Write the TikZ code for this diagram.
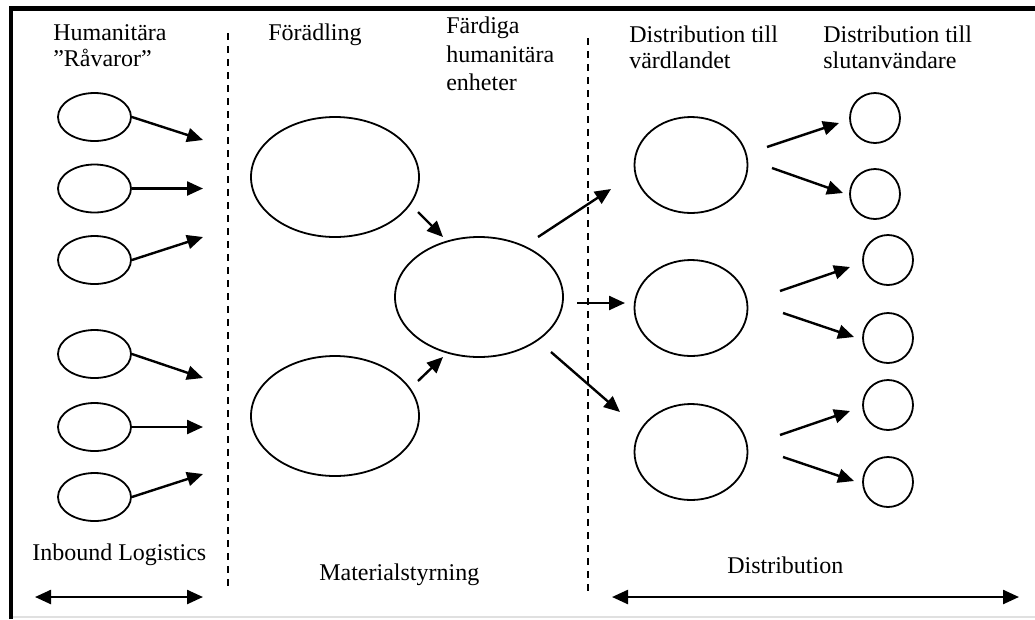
\documentclass[tikz,border=0pt]{standalone}
\usepackage{fontspec}
\setmainfont{Liberation Serif}
\usetikzlibrary{shapes.geometric,arrows.meta}
\begin{document}
\begin{tikzpicture}[x=0.75pt,y=-0.75pt,
  lbl/.style={anchor=base west,inner sep=0pt,font=\fontsize{18}{20}\selectfont},
  oval/.style={draw,ellipse,inner sep=0pt,line width=1.35pt},
  sm/.style={oval,minimum width=54.75pt,minimum height=36pt},
  big/.style={oval,minimum width=126pt,minimum height=90pt},
  mid/.style={oval,minimum width=84.75pt,minimum height=72pt},
  dot/.style={draw,circle,inner sep=0pt,line width=1.35pt,minimum size=37.5pt},
  arr/.style={line width=1.8pt,-{Triangle[length=12pt,width=10.5pt]}},
  dbl/.style={line width=1.8pt,{Triangle[length=12pt,width=10.5pt]}-{Triangle[length=12pt,width=10.5pt]}},
  sep/.style={line width=1.3pt,dash pattern=on 5.25pt off 4.5pt}]
\useasboundingbox (0,0) rectangle (1035,619);
% frame
\draw[line width=3pt] (11,619) -- (11,8);
\draw[line width=3.75pt] (9,8) -- (1035,8);
\draw[line width=1pt,black!12] (13,617) -- (1035,617);
% separators
\coordinate (d1a) at (228,33); \coordinate (d1b) at (228,586);
\coordinate (d2a) at (588,38); \coordinate (d2b) at (588,596);
\draw[sep] (d1a) -- (d1b);
\draw[sep] (d2a) -- (d2b);
% headings
\node[lbl] (h1) at (53,40) {Humanitära};
\node[lbl] (h1b) at (53,66) {”Råvaror”};
\node[lbl] (h2) at (268,40) {Förädling};
\node[lbl] (h3) at (446,33) {Färdiga};
\node[lbl] (h3b) at (446,62) {humanitära};
\node[lbl] (h3c) at (446,90) {enheter};
\node[lbl] (h4) at (629,42) {Distribution till};
\node[lbl] (h4b) at (629,68) {värdlandet};
\node[lbl] (h5) at (823,42) {Distribution till};
\node[lbl] (h5b) at (823,68) {slutanvändare};
\node[lbl] (f1) at (32,560) {Inbound Logistics};
\node[lbl] (f2) at (319,580) {Materialstyrning};
\node[lbl] (f3) at (727,573) {Distribution};
% left small ellipses
\node[sm] (s1) at (94.5,117) {};
\node[sm] (s2) at (94.5,188.5) {};
\node[sm] (s3) at (94.5,260) {};
\node[sm] (s4) at (94.5,354) {};
\node[sm] (s5) at (94.5,427) {};
\node[sm] (s6) at (94.5,497) {};
\coordinate (t1) at (203,140);
\coordinate (t2) at (203,188.5);
\coordinate (t3) at (203,237);
\coordinate (t4) at (203,378);
\coordinate (t5) at (203,427);
\coordinate (t6) at (203,474);
\draw[arr] (s1.east) -- (t1);
\draw[arr] (s2.east) -- (t2);
\draw[arr] (s3.east) -- (t3);
\draw[arr] (s4.east) -- (t4);
\draw[arr] (s5.east) -- (t5);
\draw[arr] (s6.east) -- (t6);
% big ellipses
\node[big] (b1) at (335,177) {};
\node[big] (b2) at (335,416) {};
\node[big] (c) at (479,297) {};
\coordinate (u1) at (418,212); \coordinate (u2) at (443,237);
\coordinate (v1) at (418,381); \coordinate (v2) at (443,357);
\draw[arr] (u1) -- (u2);
\draw[arr] (v1) -- (v2);
% right medium ellipses
\node[mid] (m1) at (691,165) {};
\node[mid] (m2) at (691,308) {};
\node[mid] (m3) at (691,452) {};
\coordinate (o1a) at (538,237); \coordinate (o1b) at (611,189);
\coordinate (o2a) at (577,303); \coordinate (o2b) at (625,303);
\coordinate (o3a) at (551,352); \coordinate (o3b) at (620,412);
\draw[arr] (o1a) -- (o1b);
\draw[arr] (o2a) -- (o2b);
\draw[arr] (o3a) -- (o3b);
% circles
\node[dot] (k1) at (875,118) {};
\node[dot] (k2) at (875,194) {};
\node[dot] (k3) at (888,260) {};
\node[dot] (k4) at (888,338) {};
\node[dot] (k5) at (888,405) {};
\node[dot] (k6) at (888,482) {};
\coordinate (p1a) at (767,147); \coordinate (p1b) at (839,123);
\coordinate (p2a) at (772,168); \coordinate (p2b) at (843,193);
\coordinate (p3a) at (780,291); \coordinate (p3b) at (850,267);
\coordinate (p4a) at (783,313); \coordinate (p4b) at (854,337);
\coordinate (p5a) at (780,435); \coordinate (p5b) at (850,411);
\coordinate (p6a) at (783,457); \coordinate (p6b) at (854,481);
\draw[arr] (p1a) -- (p1b);
\draw[arr] (p2a) -- (p2b);
\draw[arr] (p3a) -- (p3b);
\draw[arr] (p4a) -- (p4b);
\draw[arr] (p5a) -- (p5b);
\draw[arr] (p6a) -- (p6b);
% bottom double arrows
\coordinate (la) at (35,597); \coordinate (lb) at (203,597);
\coordinate (ra) at (612,597); \coordinate (rb) at (1019,597);
\draw[dbl] (la) -- (lb);
\draw[dbl] (ra) -- (rb);
\end{tikzpicture}
\end{document}
